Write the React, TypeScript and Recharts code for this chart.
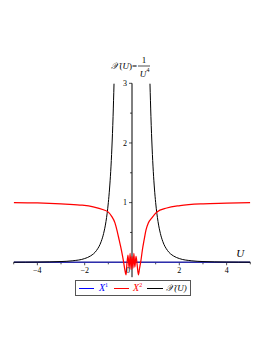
import React from 'react';
import { LineChart, Line, XAxis, YAxis, ReferenceLine } from 'recharts';

// X^1 (blue): identically zero
const uBlue = [-5, 5];
const blueValues = [0, 0];

// X^2 (red)
const uRed = [-5, -4, -3, -2.2, -1.64, -1.21, -1.0, -0.86, -0.72, -0.62, -0.54, -0.45, -0.37, -0.3, -0.25, -0.22, -0.17, -0.12, -0.08, -0.04, 0, 0.04, 0.08, 0.12, 0.17, 0.22, 0.27, 0.32, 0.37, 0.44, 0.51, 0.59, 0.69, 0.83, 1.04, 1.47, 2.03, 3.01, 4, 5];
const redValues = [1.0, 0.995, 0.98, 0.96, 0.93, 0.88, 0.84, 0.77, 0.66, 0.51, 0.37, 0.21, 0.04, -0.13, -0.21, -0.05, 0.12, -0.1, 0.15, -0.12, 0.1, -0.1, 0.15, -0.08, 0.1, -0.05, -0.21, -0.1, 0.01, 0.21, 0.37, 0.54, 0.66, 0.74, 0.84, 0.91, 0.95, 0.98, 0.99, 1.0];

// X(U) = 1/U^4 (black), gap at U = 0
const uBlack = [-5, -4.5, -4, -3.5, -3, -2.5, -2, -1.75, -1.5, -1.3, -1.2, -1.1, -1, -0.95, -0.9, -0.85, -0.8, -0.76, 0, 0.76, 0.8, 0.85, 0.9, 0.95, 1, 1.1, 1.2, 1.3, 1.5, 1.75, 2, 2.5, 3, 3.5, 4, 4.5, 5];
const blackValues: (number | null)[] = [0.0016, 0.0024, 0.0039, 0.0067, 0.0123, 0.0256, 0.0625, 0.107, 0.198, 0.35, 0.482, 0.683, 1.0, 1.228, 1.524, 1.915, 2.441, 2.995, null, 2.995, 2.441, 1.915, 1.524, 1.228, 1.0, 0.683, 0.482, 0.35, 0.198, 0.107, 0.0625, 0.0256, 0.0123, 0.0067, 0.0039, 0.0024, 0.0016];

const xMajorTicks = [-4, -2, 0, 2, 4];
const xMinorTicks = [-5, -3, -1, 1, 3, 5];
const yMajorTicks = [1, 2, 3];
const yMinorTicks = [0.5, 1.5, 2.5];

const zip = (us: number[], vs: (number | null)[]) => us.map((u, i) => ({ u, v: vs[i] }));
const blueData = zip(uBlue, blueValues);
const redData = zip(uRed, redValues);
const blackData = zip(uBlack, blackValues);

const SERIF = '"Liberation Serif", "DejaVu Serif", serif';
const W = 272;
const H = 352;

const fmt = (n: number) => (n < 0 ? '\u2212' + Math.abs(n) : String(n));

const TitleLabel = (props: any) => {
  const vb = props.viewBox || {};
  const cx = vb.x ?? 132;
  return (
    <g fontFamily={SERIF} fill="#000">
      <text x={cx + 5} y={69} fontSize={9} textAnchor="end">
        <tspan fontStyle="italic">{'\u{1D4B3}'}</tspan>(<tspan fontStyle="italic">U</tspan>)=
      </text>
      <text x={cx + 12} y={63} fontSize={9} textAnchor="middle">1</text>
      <line x1={cx + 6} x2={cx + 18} y1={66} y2={66} stroke="#000" strokeWidth={0.7} />
      <text x={cx + 11} y={76.5} fontSize={9} textAnchor="middle" fontStyle="italic">U</text>
      <text x={cx + 16} y={72} fontSize={6} textAnchor="middle">4</text>
    </g>
  );
};

const ULabel = (props: any) => {
  const vb = props.viewBox || {};
  return (
    <text x={(vb.x ?? 0) + (vb.width ?? 0) - 10} y={(vb.y ?? 0) - 5} fontSize={11} fontStyle="italic" fontFamily={SERIF} textAnchor="middle" fill="#000">
      U
    </text>
  );
};

const Legend = () => (
  <div
    style={{
      position: 'absolute',
      left: 75,
      top: 280,
      width: 114,
      height: 14,
      border: '1px solid #555',
      display: 'flex',
      alignItems: 'center',
      fontFamily: SERIF,
      fontSize: 10,
      fontStyle: 'italic',
      boxSizing: 'content-box',
      whiteSpace: 'nowrap',
    }}
  >
    <span style={{ display: 'inline-block', width: 15, height: 0, borderTop: '1.5px solid #0000ff', marginLeft: 3 }} />
    <span style={{ color: '#0000ff', marginLeft: 5 }}>X<sup style={{ fontSize: 6, fontStyle: 'normal' }}>1</sup></span>
    <span style={{ display: 'inline-block', width: 15, height: 0, borderTop: '1.5px solid #ff0000', marginLeft: 6 }} />
    <span style={{ color: '#ff0000', marginLeft: 4 }}>X<sup style={{ fontSize: 6, fontStyle: 'normal' }}>2</sup></span>
    <span style={{ display: 'inline-block', width: 16, height: 0, borderTop: '1.5px solid #000', marginLeft: 5 }} />
    <span style={{ color: '#000', marginLeft: 3, fontSize: 9 }}>
      {'\u{1D4B3}'}<span>(</span>U<span>)</span>
    </span>
  </div>
);

export default function App() {
  return (
    <div style={{ position: 'absolute', left: 0, top: 0, width: W, height: H, background: '#fff' }}>
      <LineChart width={W} height={H} margin={{ top: 83.3, right: 21.7, bottom: 74.8, left: 13.7 }}>
        <XAxis type="number" dataKey="u" domain={[-5, 5]} hide allowDataOverflow />
        <YAxis type="number" domain={[-0.25, 3]} hide allowDataOverflow />
        {/* axes */}
        <ReferenceLine y={0} stroke="#000" strokeWidth={1} label={<ULabel />} />
        <ReferenceLine x={0} stroke="#000" strokeWidth={1} label={<TitleLabel />} />
        {xMajorTicks.map((t) => (
          <ReferenceLine
            key={'xM' + t}
            segment={[{ x: t, y: 0 }, { x: t, y: -0.05 }]}
            stroke="#000"
            strokeWidth={0.7}
            label={{ value: fmt(t), position: 'bottom', offset: 2, fontSize: 8, fontFamily: SERIF, fill: '#000', dx: t === 0 ? -4 : 0 }}
          />
        ))}
        {xMinorTicks.map((t) => (
          <ReferenceLine key={'xm' + t} segment={[{ x: t, y: 0 }, { x: t, y: -0.034 }]} stroke="#000" strokeWidth={0.7} />
        ))}
        {yMajorTicks.map((t) => (
          <ReferenceLine
            key={'yM' + t}
            segment={[{ x: -0.127, y: t }, { x: 0, y: t }]}
            stroke="#000"
            strokeWidth={0.7}
            label={{ value: String(t), position: 'left', offset: 2, fontSize: 8, fontFamily: SERIF, fill: '#000' }}
          />
        ))}
        {yMinorTicks.map((t) => (
          <ReferenceLine key={'ym' + t} segment={[{ x: -0.085, y: t }, { x: 0, y: t }]} stroke="#000" strokeWidth={0.7} />
        ))}
        <Line data={blueData} dataKey="v" type="linear" stroke="#2b2bd6" strokeOpacity={0.75} strokeWidth={1.5} dot={false} isAnimationActive={false} />
        <Line data={blackData} dataKey="v" type="monotone" stroke="#000" strokeWidth={1} dot={false} connectNulls={false} isAnimationActive={false} />
        <Line data={redData} dataKey="v" type="monotone" stroke="#ff0000" strokeWidth={1.25} dot={false} isAnimationActive={false} />
      </LineChart>
      <Legend />
    </div>
  );
}
